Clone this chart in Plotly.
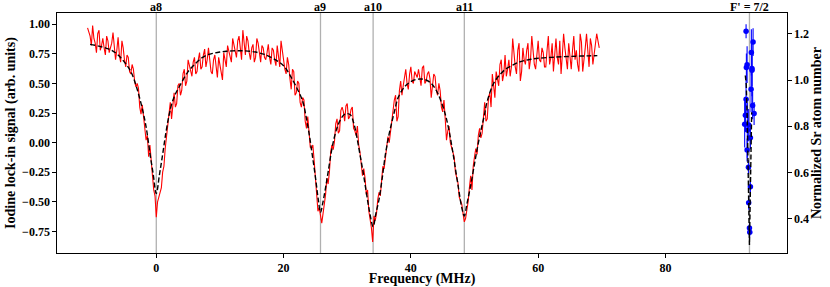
import plotly.graph_objects as go

# ---------------- data ----------------
# iodine lock-in signal, read on two interleaved frequency grids
freq_a = [
    -10.8, -10.4, -10.0, -9.6, -9.2, -8.8, -8.4, -8.0, -7.6, -7.2,
    -6.8, -6.4, -6.0, -5.6, -5.2, -4.8, -4.4, -4.0, -3.6, -3.2,
    -2.8, -2.4, -2.0, -1.6, -1.2, -0.8, -0.4, 0.0, 0.4, 0.8,
    1.2, 1.6, 2.0, 2.4, 2.8, 3.2, 3.6, 4.0, 4.4, 4.8,
    5.2, 5.6, 6.0, 6.4, 6.8, 7.2, 7.6, 8.0, 8.4, 8.8,
    9.2, 9.6, 10.0, 10.4, 10.8, 11.2, 11.6, 12.0, 12.4, 12.8,
    13.2, 13.6, 14.0, 14.4, 14.8, 15.2, 15.6, 16.0, 16.4, 16.8,
    17.2, 17.6, 18.0, 18.4, 18.8, 19.2, 19.6, 20.0, 20.4, 20.8,
    21.2, 21.6, 22.0, 22.4, 22.8, 23.2, 23.6, 24.0, 24.4, 24.8,
    25.2, 25.6, 26.0, 26.4, 26.8, 27.2, 27.6, 28.0, 28.4, 28.8,
    29.2, 29.6, 30.0, 30.4, 30.8, 31.2, 31.6, 32.0, 32.4, 32.8,
    33.2, 33.6, 34.0, 34.4, 34.8, 35.2, 35.6, 36.0, 36.4, 36.8,
    37.2, 37.6, 38.0, 38.4, 38.8, 39.2, 39.6, 40.0, 40.4, 40.8,
    41.2, 41.6, 42.0, 42.4, 42.8, 43.2, 43.6, 44.0, 44.4, 44.8,
    45.2, 45.6, 46.0, 46.4, 46.8, 47.2, 47.6, 48.0, 48.4, 48.8,
    49.2, 49.6, 50.0, 50.4, 50.8, 51.2, 51.6, 52.0, 52.4, 52.8,
    53.2, 53.6, 54.0, 54.4, 54.8, 55.2, 55.6, 56.0, 56.4, 56.8,
    57.2, 57.6, 58.0, 58.4, 58.8, 59.2, 59.6, 60.0, 60.4, 60.8,
    61.2, 61.6, 62.0, 62.4, 62.8, 63.2, 63.6, 64.0, 64.4, 64.8,
    65.2, 65.6, 66.0, 66.4, 66.8, 67.2, 67.6, 68.0, 68.4, 68.8,
    69.2, 69.6,
]
signal_a = [
    0.97, 0.90, 0.99, 0.84, 0.92, 0.78, 0.88, 0.74, 0.86, 0.80,
    0.93, 0.70, 0.89, 0.68, 0.80, 0.64, 0.72, 0.58, 0.62, 0.47,
    0.46, 0.24, 0.20, 0.02, -0.12, -0.18, -0.40, -0.63, -0.46, -0.38,
    -0.20, 0.05, 0.24, 0.20, 0.42, 0.33, 0.50, 0.44, 0.62, 0.52,
    0.66, 0.56, 0.72, 0.60, 0.76, 0.64, 0.79, 0.70, 0.68, 0.58,
    0.74, 0.55, 0.66, 0.53, 0.70, 0.82, 0.72, 0.88, 0.76, 0.86,
    0.80, 0.95, 0.74, 0.86, 0.70, 0.83, 0.72, 0.84, 0.68, 0.80,
    0.70, 0.83, 0.66, 0.78, 0.65, 0.72, 0.86, 0.70, 0.58, 0.66,
    0.45, 0.60, 0.42, 0.50, 0.30, 0.36, 0.12, 0.10, -0.05, -0.15,
    -0.40, -0.55, -0.68, -0.52, -0.30, -0.25, -0.02, 0.01, 0.20, 0.10,
    0.30, 0.18, 0.33, 0.22, 0.30, 0.10, 0.14, -0.08, -0.28, -0.30,
    -0.40, -0.64, -0.84, -0.66, -0.48, -0.45, -0.20, -0.14, 0.05, 0.10,
    0.28, 0.40, 0.22, 0.52, 0.48, 0.62, 0.45, 0.64, 0.50, 0.58,
    0.62, 0.48, 0.65, 0.52, 0.60, 0.38, 0.58, 0.44, 0.50, 0.30,
    0.36, 0.02, 0.14, -0.04, -0.12, -0.30, -0.46, -0.52, -0.67, -0.58,
    -0.38, -0.40, -0.12, -0.10, 0.12, 0.08, 0.34, 0.20, 0.42, 0.58,
    0.38, 0.55, 0.66, 0.52, 0.74, 0.62, 0.56, 0.88, 0.64, 0.78,
    0.52, 0.80, 0.66, 0.84, 0.70, 0.78, 0.62, 0.86, 0.68, 0.76,
    0.64, 0.90, 0.72, 0.60, 0.88, 0.66, 0.58, 0.92, 0.70, 0.84,
    0.62, 0.90, 0.78, 0.60, 0.85, 0.68, 0.92, 0.64, 0.82, 0.75,
    0.92, 0.80,
]
freq_b = [
    -10.6, -10.2, -9.8, -9.4, -9.0, -8.6, -8.2, -7.8, -7.4, -7.0,
    -6.6, -6.2, -5.8, -5.4, -5.0, -4.6, -4.2, -3.8, -3.4, -3.0,
    -2.6, -2.2, -1.8, -1.4, -1.0, -0.6, -0.2, 0.2, 0.6, 1.0,
    1.4, 1.8, 2.2, 2.6, 3.0, 3.4, 3.8, 4.2, 4.6, 5.0,
    5.4, 5.8, 6.2, 6.6, 7.0, 7.4, 7.8, 8.2, 8.6, 9.0,
    9.4, 9.8, 10.2, 10.6, 11.0, 11.4, 11.8, 12.2, 12.6, 13.0,
    13.4, 13.8, 14.2, 14.6, 15.0, 15.4, 15.8, 16.2, 16.6, 17.0,
    17.4, 17.8, 18.2, 18.6, 19.0, 19.4, 19.8, 20.2, 20.6, 21.0,
    21.4, 21.8, 22.2, 22.6, 23.0, 23.4, 23.8, 24.2, 24.6, 25.0,
    25.4, 25.8, 26.2, 26.6, 27.0, 27.4, 27.8, 28.2, 28.6, 29.0,
    29.4, 29.8, 30.2, 30.6, 31.0, 31.4, 31.8, 32.2, 32.6, 33.0,
    33.4, 33.8, 34.2, 34.6, 35.0, 35.4, 35.8, 36.2, 36.6, 37.0,
    37.4, 37.8, 38.2, 38.6, 39.0, 39.4, 39.8, 40.2, 40.6, 41.0,
    41.4, 41.8, 42.2, 42.6, 43.0, 43.4, 43.8, 44.2, 44.6, 45.0,
    45.4, 45.8, 46.2, 46.6, 47.0, 47.4, 47.8, 48.2, 48.6, 49.0,
    49.4, 49.8, 50.2, 50.6, 51.0, 51.4, 51.8, 52.2, 52.6, 53.0,
    53.4, 53.8, 54.2, 54.6, 55.0, 55.4, 55.8, 56.2, 56.6, 57.0,
    57.4, 57.8, 58.2, 58.6, 59.0, 59.4, 59.8, 60.2, 60.6, 61.0,
    61.4, 61.8, 62.2, 62.6, 63.0, 63.4, 63.8, 64.2, 64.6, 65.0,
    65.4, 65.8, 66.2, 66.6, 67.0, 67.4, 67.8, 68.2, 68.6, 69.0,
    69.4,
]
signal_b = [
    0.93, 0.82, 0.88, 0.76, 0.95, 0.82, 0.80, 0.90, 0.76, 0.84,
    0.82, 0.78, 0.74, 0.86, 0.70, 0.74, 0.60, 0.66, 0.52, 0.50,
    0.30, 0.32, 0.10, 0.06, -0.02, -0.28, -0.45, -0.50, -0.42, -0.25,
    -0.05, 0.15, 0.34, 0.30, 0.30, 0.48, 0.40, 0.58, 0.48, 0.70,
    0.60, 0.68, 0.58, 0.70, 0.62, 0.74, 0.64, 0.80, 0.60, 0.70,
    0.62, 0.72, 0.60, 0.76, 0.64, 0.78, 0.68, 0.82, 0.72, 0.90,
    0.70, 0.82, 0.90, 0.76, 0.80, 0.68, 0.88, 0.76, 0.82, 0.72,
    0.76, 0.72, 0.80, 0.70, 0.82, 0.64, 0.76, 0.62, 0.72, 0.54,
    0.62, 0.40, 0.52, 0.34, 0.38, 0.18, 0.22, -0.04, -0.02, -0.28,
    -0.58, -0.62, -0.60, -0.44, -0.35, -0.08, -0.06, 0.16, 0.08, 0.27,
    0.26, 0.31, 0.20, 0.28, 0.12, 0.06, -0.02, -0.20, -0.22, -0.44,
    -0.58, -0.72, -0.62, -0.60, -0.42, -0.30, -0.22, -0.02, 0.00, 0.20,
    0.36, 0.18, 0.44, 0.40, 0.56, 0.50, 0.58, 0.52, 0.60, 0.55,
    0.56, 0.63, 0.50, 0.58, 0.54, 0.48, 0.56, 0.40, 0.44, 0.26,
    0.20, 0.10, 0.00, -0.06, -0.25, -0.34, -0.50, -0.60, -0.64, -0.50,
    -0.28, -0.20, -0.05, 0.06, 0.04, 0.26, 0.18, 0.38, 0.30, 0.48,
    0.60, 0.48, 0.70, 0.58, 0.56, 0.70, 0.64, 0.72, 0.58, 0.84,
    0.60, 0.70, 0.78, 0.62, 0.90, 0.66, 0.74, 0.70, 0.80, 0.64,
    0.78, 0.66, 0.84, 0.74, 0.72, 0.86, 0.74, 0.80, 0.62, 0.70,
    0.78, 0.70, 0.66, 0.92, 0.60, 0.80, 0.74, 0.88, 0.66, 0.86,
    0.86,
]

fit_freq = [
    -10.4, -9, -8, -7, -6, -5, -4, -3, -2, -1.5, -1, -0.5, 0, 0.5, 1, 1.5, 2, 2.5, 3, 4,
    5, 6, 7, 8, 9, 10, 11, 12, 13, 14, 15, 16, 17, 18, 19, 20, 21, 22, 23, 23.5,
    24, 24.5, 25, 25.5, 25.8, 26.2, 26.6, 27, 27.5, 28, 28.5, 29, 29.5, 30, 30.5, 31, 31.5, 32, 32.5, 33,
    33.5, 34.07, 34.5, 35, 35.5, 36, 36.5, 37, 37.5, 38, 39, 40, 41, 42, 43, 44, 45, 45.5, 46, 46.5,
    47, 47.5, 48, 48.4, 48.8, 49.3, 50, 50.5, 51, 51.5, 52, 53, 54, 55, 56, 57, 58, 59, 60, 62,
    64, 66, 68, 69.3,
]
fit_signal = [
    0.83, 0.815, 0.80, 0.78, 0.74, 0.68, 0.60, 0.45, 0.24, 0.10, -0.09, -0.26, -0.43, -0.27, -0.10, 0.08, 0.23, 0.34, 0.41, 0.51,
    0.60, 0.66, 0.71, 0.74, 0.755, 0.765, 0.772, 0.775, 0.776, 0.775, 0.77, 0.76, 0.745, 0.72, 0.69, 0.65, 0.57, 0.47, 0.35, 0.23,
    0.08, -0.10, -0.29, -0.50, -0.59, -0.50, -0.38, -0.25, -0.08, 0.05, 0.14, 0.20, 0.235, 0.245, 0.235, 0.17, 0.05, -0.10, -0.25, -0.42,
    -0.58, -0.71, -0.60, -0.48, -0.30, -0.10, 0.05, 0.17, 0.28, 0.38, 0.47, 0.515, 0.535, 0.535, 0.51, 0.44, 0.31, 0.22, 0.10, -0.05,
    -0.22, -0.39, -0.55, -0.62, -0.52, -0.39, -0.18, -0.03, 0.10, 0.22, 0.35, 0.50, 0.575, 0.625, 0.655, 0.68, 0.695, 0.705, 0.713, 0.72,
    0.726, 0.73, 0.733, 0.735,
]

sr_freq = [92.67, 93.77, 93.50, 92.83, 92.72, 93.60, 93.60, 93.46, 92.67, 93.70, 93.93,
           92.56, 92.45, 93.08, 92.87, 93.35, 92.83, 93.04, 93.35, 93.08, 93.20, 93.25]
sr_atoms = [1.212, 1.165, 1.120, 1.067, 1.055, 1.050, 1.043, 0.960, 0.917, 0.890, 0.855,
            0.848, 0.808, 0.805, 0.783, 0.750, 0.697, 0.622, 0.537, 0.468, 0.358, 0.340]
sr_err = [0.03, 0.06, 0.10, 0.08, 0.06, 0.12, 0.07, 0.10, 0.08, 0.06, 0.05,
          0.06, 0.10, 0.07, 0.12, 0.05, 0.05, 0.03, 0.03, 0.03, 0.02, 0.02]

sr_fit_freq = [92.55, 92.7, 92.85, 93.0, 93.1, 93.2, 93.3, 93.4, 93.55]
sr_fit_atoms = [1.02, 0.98, 0.84, 0.62, 0.42, 0.285, 0.45, 0.68, 0.86]

line_freqs = [0.0, 25.8, 34.07, 48.4, 93.2]
line_labels = ["a8", "a9", "a10", "a11", "F' = 7/2"]

left_ticks = [-0.75, -0.50, -0.25, 0.00, 0.25, 0.50, 0.75, 1.00]
right_ticks = [0.4, 0.6, 0.8, 1.0, 1.2]
x_ticks = [0, 20, 40, 60, 80]

# merge the two interleaved grids into one ordered trace
pairs = sorted(zip(freq_a + freq_b, signal_a + signal_b))
freq = [p[0] for p in pairs]
iodine_signal = [p[1] for p in pairs]

# ---------------- figure ----------------
FONT = "Liberation Serif, Times New Roman, serif"
TICKFONT = dict(family=FONT, size=12, color="black", weight="bold")
TITLEFONT = dict(family=FONT, size=14, color="black", weight="bold")

fig = go.Figure()

fig.add_trace(go.Scatter(x=freq, y=iodine_signal, mode="lines",
                         line=dict(color="#ff0000", width=1.1), showlegend=False))
fig.add_trace(go.Scatter(x=fit_freq, y=fit_signal, mode="lines",
                         line=dict(color="black", width=1.4, dash="5px,2.5px", shape="spline"),
                         showlegend=False))
fig.add_trace(go.Scatter(x=sr_freq, y=sr_atoms, mode="markers", yaxis="y2",
                         marker=dict(color="#0000ff", size=5.5),
                         error_y=dict(type="data", array=sr_err, color="#0000ff", thickness=1.1, width=0),
                         showlegend=False))
fig.add_trace(go.Scatter(x=sr_fit_freq, y=sr_fit_atoms, mode="lines", yaxis="y2",
                         line=dict(color="black", width=1.4, dash="5px,2.5px"),
                         showlegend=False))

for f, lab in zip(line_freqs, line_labels):
    fig.add_shape(type="line", xref="x", yref="paper", x0=f, x1=f, y0=0, y1=1,
                  line=dict(color="#b0b0b0", width=1.3), layer="below")
    fig.add_annotation(x=f, y=1, xref="x", yref="paper", text=lab,
                       showarrow=False, yanchor="top", yshift=14, borderpad=0,
                       font=dict(family=FONT, size=12, color="black", weight="bold"))

axis_common = dict(showline=True, linecolor="black", linewidth=1.3, ticks="outside",
                   ticklen=3.5, tickwidth=1, tickcolor="black", showgrid=False, zeroline=False,
                   tickfont=TICKFONT, automargin=False)

fig.update_layout(
    width=830, height=287,
    margin=dict(l=57, r=43, t=13, b=34, autoexpand=False),
    paper_bgcolor="white", plot_bgcolor="white",
    font=dict(family=FONT, color="black"),
    xaxis=dict(range=[-15.6, 99.1], tickvals=x_ticks, mirror=True,
               title=dict(text="Frequency (MHz)", font=TITLEFONT, standoff=2),
               **axis_common),
    yaxis=dict(range=[-0.933, 1.095], tickvals=left_ticks, tickformat=".2f",
               title=dict(text="Iodine lock-in signal (arb. units)", font=TITLEFONT, standoff=3),
               **axis_common),
    yaxis2=dict(range=[0.25, 1.291], tickvals=right_ticks, tickformat=".1f",
                overlaying="y", side="right",
                title=dict(text="Normalized Sr atom number", font=TITLEFONT, standoff=2),
                **axis_common),
)

# the page's default 8px body margin would shift the fixed-size figure; remove it
fig.write_html("out.html",
               config={"displayModeBar": False},
               post_script="document.body.style.margin='0px';document.body.style.overflow='hidden';")
